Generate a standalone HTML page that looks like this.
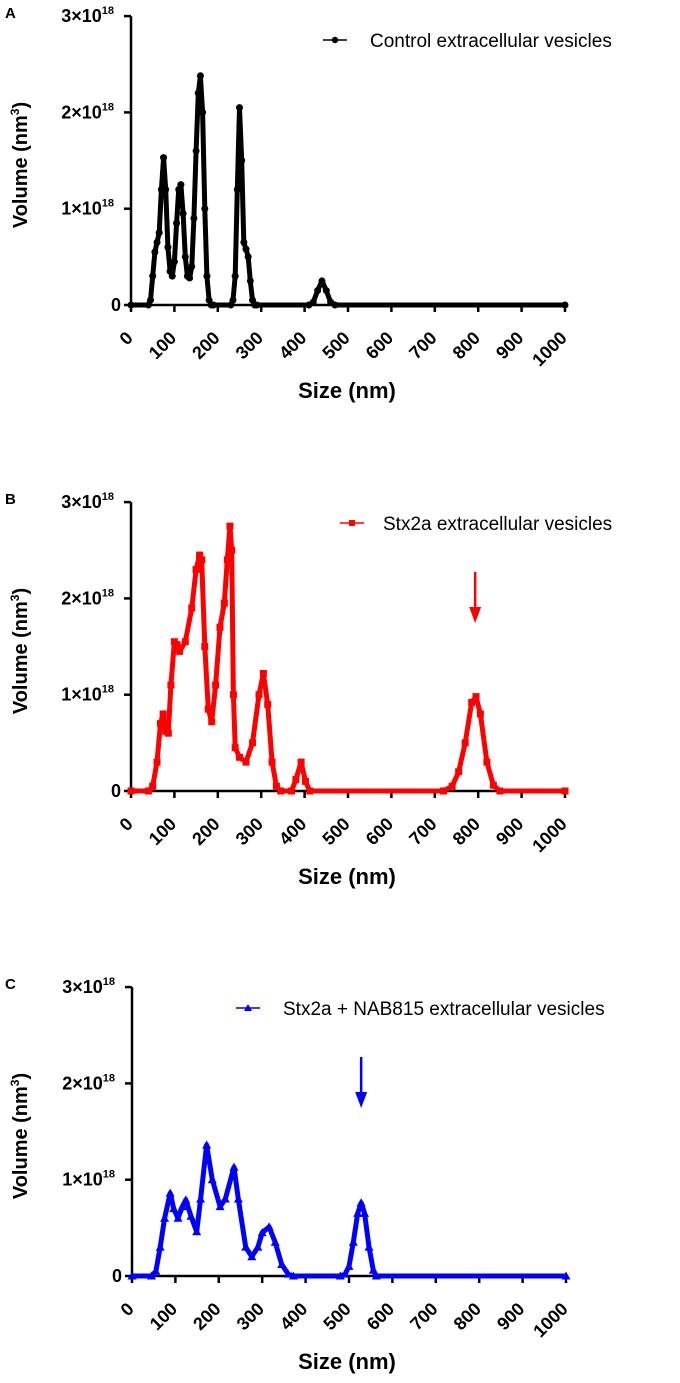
<!DOCTYPE html>
<html><head><meta charset="utf-8"><style>
body{margin:0;background:#fff;}
svg{display:block;font-family:"Liberation Sans",Arial,sans-serif;}
</style></head><body>
<svg id="fig" width="680" height="1383" viewBox="0 0 680 1383"></svg>
<script>
const xTicks=[0,100,200,300,400,500,600,700,800,900,1000];
const yTicks=[0,1,2,3];
const yTickLabels=["0","1×10","2×10","3×10"];
const sizesA=[0,40,45,50,55,60,65,70,75,80,85,90,95,100,105,110,115,120,125,130,135,140,145,150,155,160,165,170,175,180,185,190,230,235,240,245,250,255,260,265,270,275,280,285,290,410,420,430,440,450,460,470,1000];
const volA=[0,0,0.05,0.3,0.55,0.65,0.75,1.2,1.53,1.2,0.6,0.35,0.3,0.45,0.85,1.2,1.25,0.95,0.5,0.3,0.28,0.4,0.9,1.6,2.2,2.38,2.0,1.0,0.3,0.05,0,0,0,0.05,0.3,1.2,2.05,1.5,0.65,0.58,0.5,0.25,0.05,0,0,0,0.03,0.15,0.25,0.15,0.03,0,0];
const sizesB=[0,40,50,60,68,74,80,86,92,100,106,112,125,140,150,158,163,170,178,186,195,205,215,222,228,232,236,240,250,265,280,295,305,315,325,335,345,370,380,392,402,412,720,740,755,770,785,795,805,820,835,850,1000];
const volB=[0,0,0.05,0.3,0.7,0.8,0.62,0.6,1.1,1.55,1.52,1.45,1.55,1.9,2.3,2.45,2.4,1.5,0.85,0.72,1.1,1.7,1.95,2.4,2.75,2.5,1.0,0.45,0.35,0.3,0.5,1.0,1.22,0.9,0.3,0.05,0,0,0.12,0.3,0.1,0,0,0.05,0.2,0.5,0.92,0.98,0.8,0.3,0.06,0,0];
const sizesC=[0,45,55,65,75,88,96,106,116,124,136,149,158,172,185,203,215,235,245,262,276,290,300,316,330,345,360,372,480,491,500,510,520,528,536,546,556,563,1000];
const volC=[0,0,0.05,0.3,0.6,0.86,0.7,0.6,0.72,0.79,0.62,0.46,0.8,1.36,1.0,0.72,0.8,1.13,0.8,0.3,0.2,0.3,0.45,0.51,0.35,0.12,0.02,0,0,0.02,0.1,0.35,0.65,0.76,0.65,0.3,0.06,0,0];
const ns="http://www.w3.org/2000/svg";
const svg=document.getElementById('fig');
function mk(tag,attrs,parent){const e=document.createElementNS(ns,tag);for(const k in attrs)e.setAttribute(k,attrs[k]);(parent||svg).appendChild(e);return e;}
const panels=[
 {id:'a',letter:'A',x0:131,y0:305,sizes:sizesA,vals:volA,color:'#000',marker:'circle',legend:'Control extracellular vesicles',lx:323,ly:40,tx:370,arrow:null},
 {id:'b',letter:'B',x0:131,y0:791,sizes:sizesB,vals:volB,color:'#ff0000',marker:'square',legend:'Stx2a extracellular vesicles',lx:340,ly:523,tx:383,arrow:793},
 {id:'c',letter:'C',x0:132,y0:1276,sizes:sizesC,vals:volC,color:'#0000ff',marker:'tri',legend:'Stx2a + NAB815 extracellular vesicles',lx:236,ly:1008,tx:283,arrow:528}
];
panels.forEach(p=>{
 const g=mk('g',{});
 
 
 const xs=v=>p.x0+v*0.434;
 const ys=v=>p.y0-v*96.3;
 const L=mk('text',{x:5,y:p.y0-287,'font-size':15,'font-weight':'bold'},g);L.textContent=p.letter;
 
 
 const ya=mk('line',{x1:p.x0,y1:ys(3),x2:p.x0,y2:p.y0,stroke:'#000','stroke-width':2.5},g);
 
 
 const xa=mk('line',{x1:p.x0-1,y1:p.y0,x2:xs(1000)+1,y2:p.y0,stroke:'#000','stroke-width':2.5},g);
 
 
 yTicks.forEach((t,i)=>{
  mk('line',{x1:p.x0-7,y1:ys(t),x2:p.x0,y2:ys(t),stroke:'#000','stroke-width':2.5},g);
  const tx=mk('text',{x:p.x0-(t===0?10:17),y:ys(t)+6,'font-size':18,'font-weight':'bold','text-anchor':'end'},g);
  tx.textContent=yTickLabels[i];
  if(t!==0){const s=mk('tspan',{'font-size':11,dy:-8},tx);s.textContent='18';}
  
  
 });
 xTicks.forEach(t=>{
  mk('line',{x1:xs(t),y1:p.y0,x2:xs(t),y2:p.y0+7,stroke:'#000','stroke-width':2.5},g);
  const ax=xs(t)+3, ay=p.y0+34;
  const tx=mk('text',{x:ax,y:ay,'font-size':18,'font-weight':'bold','text-anchor':'end',transform:`rotate(-45 ${ax} ${ay})`},g);
  tx.textContent=t;
  
  
 });
 const yt=mk('text',{x:0,y:0,'font-size':20,'font-weight':'bold','text-anchor':'middle',transform:`translate(27 ${p.y0-140}) rotate(-90)`},g);
 yt.textContent='Volume (nm';const sp=mk('tspan',{'font-size':12,dy:-8},yt);sp.textContent='3';const sp2=mk('tspan',{dy:8},yt);sp2.textContent=')';
 
 
 const xt=mk('text',{x:347,y:p.y0+93,'font-size':22,'font-weight':'bold','text-anchor':'middle'},g);xt.textContent='Size (nm)';
 
 
 const d=p.sizes.map((s,i)=>(i?'L':'M')+xs(s).toFixed(1)+' '+ys(p.vals[i]).toFixed(1)).join(' ');
 const line=mk('path',{d:d,fill:'none',stroke:p.color,'stroke-width':5,'stroke-linejoin':'round'},g);
 
 
 p.sizes.forEach((s,i)=>{
  const cx=xs(s),cy=ys(p.vals[i]);let m;
  if(p.marker==='circle')m=mk('circle',{cx:cx,cy:cy,r:3.5,fill:p.color},g);
  else if(p.marker==='square')m=mk('rect',{x:cx-3.5,y:cy-3.5,width:7,height:7,fill:p.color},g);
  else m=mk('path',{d:`M${cx} ${cy-4.5}L${cx+4.5} ${cy+3.5}L${cx-4.5} ${cy+3.5}Z`,fill:p.color},g);
  
  
 });
 const lg=mk('g',{},g);
 
 
 mk('line',{x1:p.lx,y1:p.ly,x2:p.lx+24,y2:p.ly,stroke:p.color,'stroke-width':1.5},lg);
 const mx=p.lx+12;
 if(p.marker==='circle')mk('circle',{cx:mx,cy:p.ly,r:3.2,fill:p.color},lg);
 else if(p.marker==='square')mk('rect',{x:mx-3,y:p.ly-3,width:6,height:6,fill:p.color},lg);
 else mk('path',{d:`M${mx} ${p.ly-4}L${mx+4} ${p.ly+3}L${mx-4} ${p.ly+3}Z`,fill:p.color},lg);
 const lt=mk('text',{x:p.tx,y:p.ly+7,'font-size':19},lg);lt.textContent=p.legend;
 if(p.arrow!==null){
  const ax=xs(p.arrow);
  const ag=mk('g',{},g);
  
  
  mk('line',{x1:ax,y1:p.y0-219,x2:ax,y2:p.y0-180,stroke:p.color,'stroke-width':2.5},ag);
  mk('path',{d:`M${ax-6} ${p.y0-184}L${ax+6} ${p.y0-184}L${ax} ${p.y0-168}Z`,fill:p.color},ag);
 }
});
</script>
</body></html>
